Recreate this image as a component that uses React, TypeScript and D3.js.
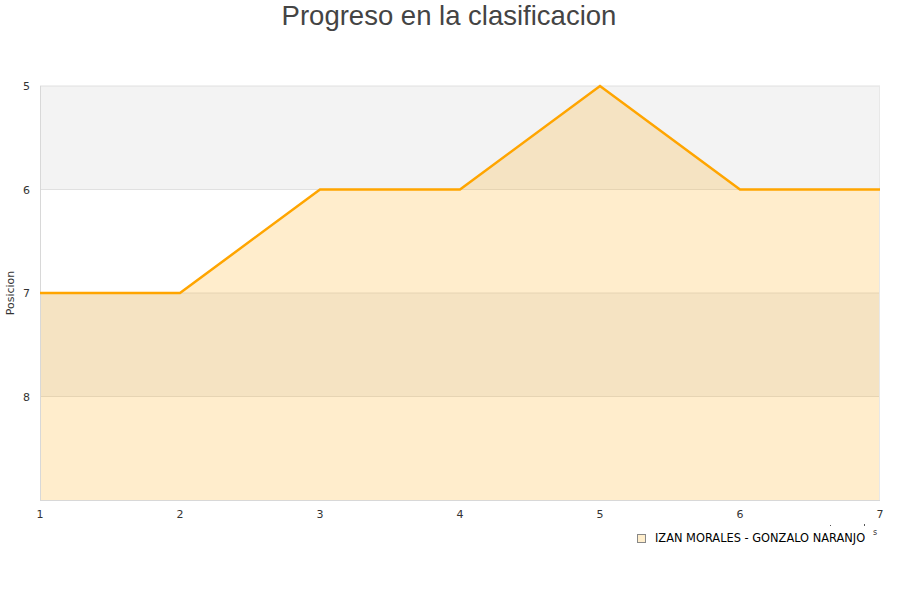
import * as React from "react"
import * as d3 from "d3"

const jornadas = [1, 2, 3, 4, 5, 6, 7]
const posiciones = [7, 7, 6, 6, 5, 6, 6]
const yTicks = [5, 6, 7, 8]
const bands = [5, 6, 7, 8]
const serieName = "IZAN MORALES - GONZALO NARANJO"

export default function App() {
    const [w, h] = [900, 600]
    const m = { top: 86, bottom: 100, left: 40, right: 20 }

    const xScale = d3.scaleLinear().domain([1, 7]).range([m.left, w - m.right])
    const yScale = d3.scaleLinear().domain([5, 9]).range([m.top, h - m.bottom])

    const pts = jornadas.map((j, i) => ({ j, p: posiciones[i] }))
    const line = d3.line<{ j: number, p: number }>().x(d => xScale(d.j)).y(d => yScale(d.p))
    const area = d3.area<{ j: number, p: number }>().x(d => xScale(d.j)).y0(yScale(9)).y1(d => yScale(d.p))

    const font = "DejaVu Sans, sans-serif"

    return (
        <svg width={w} height={h} style={{ position: "absolute", left: 0, top: 0 }}>
            <text x={449} y={25} textAnchor="middle" fontSize={27.5} fill="#444" fontFamily="Liberation Sans, Arial, sans-serif">
                Progreso en la clasificacion
            </text>

            {bands.map((b, i) => (
                <rect key={b} x={m.left} y={yScale(b)} width={xScale(7) - m.left}
                    height={yScale(b + 1) - yScale(b)} fill={i % 2 === 0 ? "#f3f3f3" : "#ffffff"} />
            ))}
            {yTicks.map(t => (
                <line key={t} x1={m.left} x2={xScale(7)} y1={yScale(t)} y2={yScale(t)} stroke="#e0e0e0" strokeWidth={1} />
            ))}

            <path d={area(pts) ?? ""} fill="rgba(255,165,0,0.2)" />

            <line x1={m.left + 0.5} x2={m.left + 0.5} y1={m.top} y2={yScale(9)} stroke="#d8d8d8" />
            <line x1={m.left} x2={xScale(7)} y1={yScale(9) + 0.5} y2={yScale(9) + 0.5} stroke="#d8d8d8" />
            <line x1={xScale(7) - 0.5} x2={xScale(7) - 0.5} y1={m.top} y2={yScale(9)} stroke="#e8e8e8" />

            <path d={line(pts) ?? ""} fill="none" stroke="#ffa500" strokeWidth={2.5} />

            {yTicks.map(t => (
                <text key={t} x={30} y={yScale(t) + 4} textAnchor="end" fontSize={11} fill="#333" fontFamily={font}>{t}</text>
            ))}
            {jornadas.map(j => (
                <text key={j} x={xScale(j)} y={518} textAnchor="middle" fontSize={11} fill="#333" fontFamily={font}>{j}</text>
            ))}

            <text transform={`translate(14,${yScale(7)}) rotate(-90)`} textAnchor="middle" fontSize={11} fill="#333" fontFamily={font}>
                Posicion
            </text>

            <text x={875} y={535} textAnchor="middle" fontSize={8} fill="#333" fontFamily={font}>s</text>
            <rect x={830} y={525} width={1} height={1} fill="#555" />
            <rect x={864} y={524} width={1} height={2} fill="#555" />

            <rect x={637.5} y={534.5} width={8} height={8} fill="#ffeecc" stroke="#888" />
            <text x={655} y={542} fontSize={11.4} fill="#000" fontFamily={font}>{serieName}</text>
        </svg>
    )
}
